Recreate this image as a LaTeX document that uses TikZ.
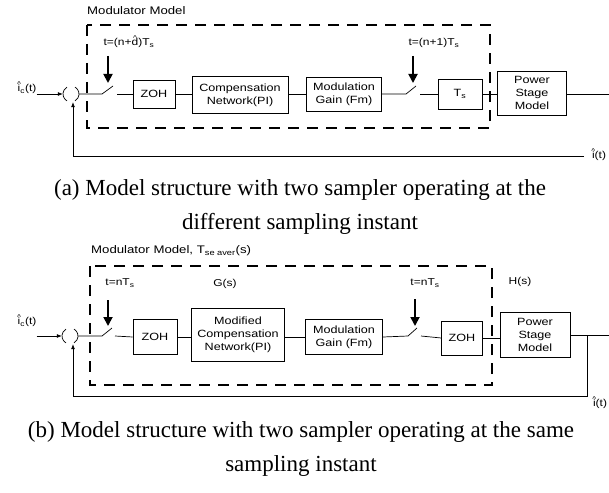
\documentclass[tikz,border=0pt]{standalone}
\usepackage{fontspec}
\setmainfont{Liberation Serif}
\newfontfamily\lab[FakeStretch=1.2]{Liberation Sans}
\usepackage{graphicx}
\usetikzlibrary{arrows.meta}
\newcommand\hatx[1]{\ooalign{#1\cr\hidewidth\raisebox{.55em}{\scalebox{.7}{\textasciicircum}}\hidewidth\cr}}
\begin{document}
\begin{tikzpicture}[x=1pt,y=-1pt,
  blk/.style={draw, line width=0.7pt, align=center, inner sep=1pt, font=\lab\fontsize{10.5}{13}\selectfont},
  modbox/.style={line width=2.4pt, dash pattern=on 11pt off 8pt},
  sig/.style={line width=0.7pt},
  samp/.style={line width=1.8pt, -{Triangle[width=9pt,length=9pt]}},
  lbl/.style={font=\lab\fontsize{10}{12}\selectfont, inner sep=0pt},
  ttl/.style={font=\lab\fontsize{11}{13}\selectfont, inner sep=0pt, anchor=west},
  captxt/.style={font=\fontsize{23}{26}\selectfont, inner sep=0pt},
  inarr/.style={line width=0.7pt, -{Latex[length=5pt,width=4pt]}},
  sumj/.style={circle, minimum size=16pt, inner sep=0pt}]
\useasboundingbox (0,0) rectangle (609,492);

% ---------------- (a) ----------------
\node[ttl] (ttlA) at (87,11) {Modulator Model};
\draw[modbox] (87,25) rectangle (490,128);
\node[lbl] (tA1) at (129,43) {t=(n+\hatx{d})T\textsubscript{s}};
\node[lbl] (tA2) at (434,43) {t=(n+1)T\textsubscript{s}};

\node[lbl] (inA) at (27,89) {\hatx{i}\textsubscript{c}(t)};
\node[sumj] (sumA) at (71,94) {};
\draw[sig] (sumA.center) ++(120:8) arc[start angle=120, end angle=240, radius=8];
\draw[sig] (sumA.center) ++(-60:8) arc[start angle=-60, end angle=60, radius=8];

\node[blk, minimum width=42pt, minimum height=28pt] (zohA) at (154,94) {ZOH};
\node[blk, minimum width=96pt, minimum height=37pt] (compA) at (240,95) {Compensation\\Network(PI)};
\node[blk, minimum width=75pt, minimum height=34pt] (fmA) at (344,94) {Modulation\\Gain (Fm)};
\node[blk, minimum width=44pt, minimum height=30pt] (tsA) at (460,94) {T\textsubscript{s}};
\node[blk, minimum width=69pt, minimum height=44pt] (psA) at (532,93) {Power\\Stage\\Model};

\coordinate (sw1aA) at (102,94);
\coordinate (sw1bA) at (113,86);
\coordinate (sw1cA) at (117,94);
\coordinate (sw2aA) at (406,94);
\coordinate (sw2bA) at (416,86);
\coordinate (sw2cA) at (420,94);
\coordinate (outA) at (609,94);

\draw[inarr] (inA.east |- sumA) -- (sumA.west);
\draw[sig] (sumA.east) -- (sw1aA) -- (sw1bA);
\draw[sig] (sw1cA) -- (zohA.west);
\draw[sig] (zohA.east) -- (zohA.east -| compA.west);
\draw[sig] (compA.east |- fmA.west) -- (fmA.west);
\draw[sig] (fmA.east) -- (sw2aA) -- (sw2bA);
\draw[sig] (sw2cA) -- (tsA.west);
\draw[sig] (tsA.east) -- (tsA.east -| psA.west);
\draw[sig] (psA.east |- outA) -- (outA);
\draw[samp] (108,56) -- (108,83);
\draw[samp] (413,56) -- (413,83);

\node[lbl] (ioutA) at (599,156) {\hatx{i}(t)};
\coordinate (fbRA) at (584,156);
\coordinate (fbLA) at (73,156);
\draw[sig] (fbRA) -- (fbLA);
\draw[inarr] (fbLA) -- (fbLA |- sumA.south);

\node[captxt] (capA1) at (300,190) {(a) Model structure with two sampler operating at the};
\node[captxt] (capA2) at (300,224) {different sampling instant};

% ---------------- (b) ----------------
\node[ttl] (ttlB) at (91,251) {Modulator Model, T\textsubscript{se aver}(s)};
\draw[modbox] (90,266) rectangle (492,385);
\node[lbl] (tB1) at (120,283) {t=nT\textsubscript{s}};
\node[lbl] (gB) at (225,284) {G(s)};
\node[lbl] (tB2) at (425,283) {t=nT\textsubscript{s}};
\node[lbl] (hB) at (520,282) {H(s)};

\node[lbl] (inB) at (27,322) {\hatx{i}\textsubscript{c}(t)};
\node[sumj] (sumB) at (70,336) {};
\draw[sig] (sumB.center) ++(120:8) arc[start angle=120, end angle=240, radius=8];
\draw[sig] (sumB.center) ++(-60:8) arc[start angle=-60, end angle=60, radius=8];

\node[blk, minimum width=44pt, minimum height=35pt] (zohB1) at (155,337) {ZOH};
\node[blk, minimum width=93pt, minimum height=53pt] (modB) at (238,335) {Modified\\Compensation\\Network(PI)};
\node[blk, minimum width=77pt, minimum height=35pt] (fmB) at (344,337) {Modulation\\Gain (Fm)};
\node[blk, minimum width=41pt, minimum height=34pt] (zohB2) at (462,338) {ZOH};
\node[blk, minimum width=70pt, minimum height=45pt] (psB) at (535,335) {Power\\Stage\\Model};

\coordinate (sw1aB) at (102,336);
\coordinate (sw1bB) at (112,328);
\coordinate (sw1cB) at (115,336);
\coordinate (sw2aB) at (408,336);
\coordinate (sw2bB) at (417,328);
\coordinate (sw2cB) at (421,336);
\coordinate (outB) at (609,335);
\coordinate (tapB) at (587,335);
\coordinate (fbRB) at (587,396);
\coordinate (fbLB) at (73,396);

\draw[inarr] (inB.east |- sumB) -- (sumB.west);
\draw[sig] (sumB.east) -- (sw1aB) -- (sw1bB);
\draw[sig] (sw1cB) -- (zohB1.west);
\draw[sig] (zohB1.east) -- (zohB1.east -| modB.west);
\draw[sig] (modB.east |- fmB.west) -- (fmB.west);
\draw[sig] (fmB.east) -- (sw2aB) -- (sw2bB);
\draw[sig] (sw2cB) -- (zohB2.west);
\draw[sig] (zohB2.east) -- (zohB2.east -| psB.west);
\draw[sig] (psB.east |- outB) -- (outB);
\draw[samp] (108,300) -- (108,326);
\draw[samp] (415,299) -- (415,326);

\draw[sig] (tapB) -- (fbRB) -- (fbLB);
\draw[inarr] (fbLB) -- (fbLB |- sumB.south);
\node[lbl] (ioutB) at (600,404) {\hatx{i}(t)};

\node[captxt] (capB1) at (301,432) {(b) Model structure with two sampler operating at the same};
\node[captxt] (capB2) at (301,466) {sampling instant};
\end{tikzpicture}
\end{document}
